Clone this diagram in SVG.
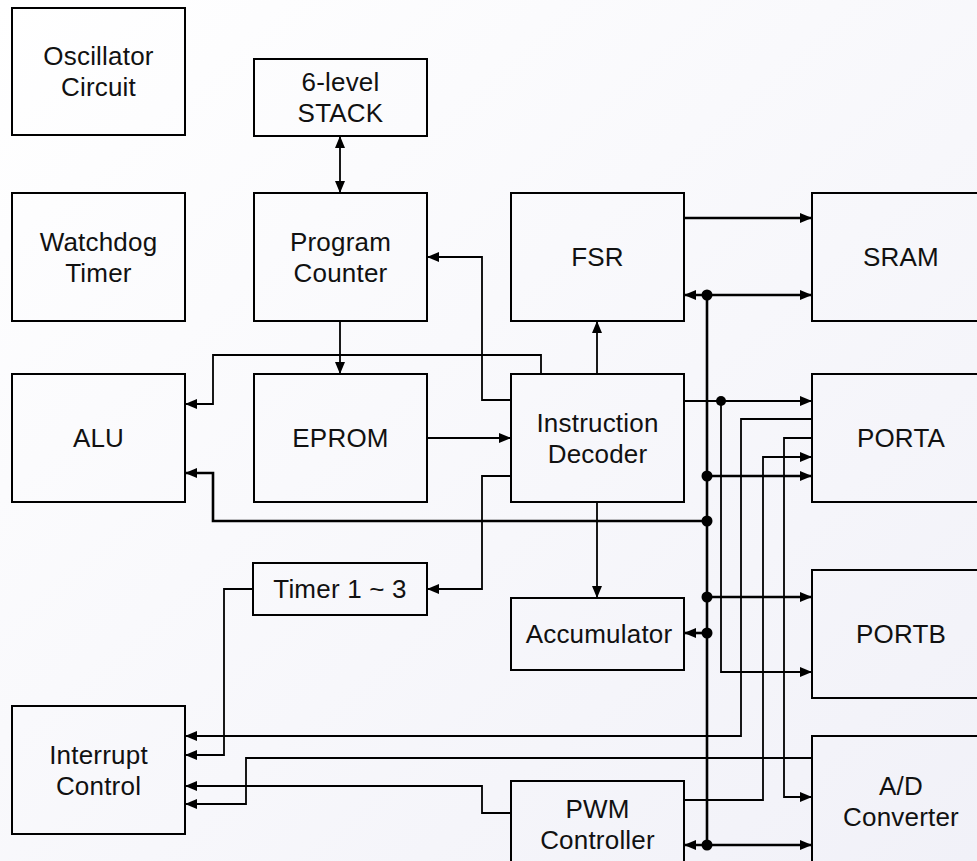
<svg xmlns="http://www.w3.org/2000/svg" width="977" height="861" viewBox="0 0 977 861">
<style>
.box{fill:none;stroke:#000;stroke-width:2}
.t{font-family:"Liberation Sans",Arial,sans-serif;font-size:26px;letter-spacing:0.2px;fill:#111;text-anchor:middle}
.c{fill:none;stroke:#000;stroke-width:1.8}
.b{fill:none;stroke:#000;stroke-width:2.6}
.dot{fill:#000}
</style>
<defs>
<linearGradient id="bg" x1="0" y1="0" x2="1" y2="1">
<stop offset="0" stop-color="#ffffff"/>
<stop offset="1" stop-color="#f1f1f8"/>
</linearGradient>
<marker id="a" viewBox="0 0 12 10" refX="12" refY="5" markerWidth="12" markerHeight="10" markerUnits="userSpaceOnUse" orient="auto-start-reverse">
<path d="M0,0 L12,5 L0,10 z" fill="#000"/>
</marker>
</defs>
<rect width="977" height="861" fill="url(#bg)"/>
<g id="osc"><rect class="box" x="12" y="8" width="173" height="127"/><text class="t" x="98.5" y="65">Oscillator</text><text class="t" x="98.5" y="96">Circuit</text></g>
<g id="stack"><rect class="box" x="254" y="59" width="173" height="77"/><text class="t" x="340.5" y="91">6-level</text><text class="t" x="340.5" y="122">STACK</text></g>
<g id="wdt"><rect class="box" x="12" y="193" width="173" height="128"/><text class="t" x="98.5" y="251">Watchdog</text><text class="t" x="98.5" y="282">Timer</text></g>
<g id="pc"><rect class="box" x="254" y="193" width="173" height="128"/><text class="t" x="340.5" y="251">Program</text><text class="t" x="340.5" y="282">Counter</text></g>
<g id="fsr"><rect class="box" x="511" y="193" width="173" height="128"/><text class="t" x="597.5" y="266">FSR</text></g>
<g id="sram"><rect class="box" x="812" y="193" width="180" height="128"/><text class="t" x="901" y="266">SRAM</text></g>
<g id="alu"><rect class="box" x="12" y="374" width="173" height="128"/><text class="t" x="98.5" y="447">ALU</text></g>
<g id="eprom"><rect class="box" x="254" y="374" width="173" height="128"/><text class="t" x="340.5" y="447">EPROM</text></g>
<g id="idec"><rect class="box" x="511" y="374" width="173" height="128"/><text class="t" x="597.5" y="432">Instruction</text><text class="t" x="597.5" y="463">Decoder</text></g>
<g id="porta"><rect class="box" x="812" y="374" width="180" height="128"/><text class="t" x="901" y="447">PORTA</text></g>
<g id="timer"><rect class="box" x="253" y="563" width="174" height="52"/><text class="t" x="340" y="598">Timer 1 ~ 3</text></g>
<g id="acc"><rect class="box" x="511" y="598" width="173" height="72"/><text class="t" x="599" y="643">Accumulator</text></g>
<g id="portb"><rect class="box" x="812" y="570" width="180" height="128"/><text class="t" x="901" y="643">PORTB</text></g>
<g id="int"><rect class="box" x="12" y="706" width="173" height="128"/><text class="t" x="98.5" y="764">Interrupt</text><text class="t" x="98.5" y="795">Control</text></g>
<g id="pwm"><rect class="box" x="511" y="781" width="173" height="100"/><text class="t" x="597.5" y="818">PWM</text><text class="t" x="597.5" y="849">Controller</text></g>
<g id="adc"><rect class="box" x="812" y="736" width="180" height="140"/><text class="t" x="901" y="795">A/D</text><text class="t" x="901" y="826">Converter</text></g>
<g id="connectors">
<path class="c" d="M340,136 V193" marker-start="url(#a)" marker-end="url(#a)"/>
<path class="c" d="M340,321 V374" marker-end="url(#a)"/>
<path class="c" d="M541,374 V355 H213 V404 H185" marker-end="url(#a)"/>
<path class="c" d="M511,400 H482 V257 H427" marker-end="url(#a)"/>
<path class="c" d="M427,438 H511" marker-end="url(#a)"/>
<path class="c" d="M511,476 H482 V589 H427" marker-end="url(#a)"/>
<path class="c" d="M597,374 V321" marker-end="url(#a)"/>
<path class="c" d="M597,502 V598" marker-end="url(#a)"/>
<path class="b" d="M684,218 H812" marker-end="url(#a)"/>
<path class="b" d="M684,295 H812" marker-start="url(#a)" marker-end="url(#a)"/>
<path class="b" d="M707,295 V845"/>
<path class="b" d="M707,476 H812" marker-end="url(#a)"/>
<path class="b" d="M707,521 H213 V473 H185" marker-end="url(#a)"/>
<path class="b" d="M707,597 H812" marker-end="url(#a)"/>
<path class="b" d="M707,633 H684" marker-end="url(#a)"/>
<path class="b" d="M684,845 H812" marker-start="url(#a)" marker-end="url(#a)"/>
<path class="c" d="M684,401 H812" marker-end="url(#a)"/>
<path class="c" d="M721,401 V672 H812" marker-end="url(#a)"/>
<path class="c" d="M812,419 H741 V736 H185" marker-end="url(#a)"/>
<path class="c" d="M812,438 H784 V797 H812" marker-end="url(#a)"/>
<path class="c" d="M684,800 H763 V457 H812" marker-end="url(#a)"/>
<path class="c" d="M812,758 H246 V804 H185" marker-end="url(#a)"/>
<path class="c" d="M511,813 H482 V786 H185" marker-end="url(#a)"/>
<path class="c" d="M253,589 H224 V755 H185" marker-end="url(#a)"/>
<circle class="dot" cx="707" cy="295" r="5.5"/>
<circle class="dot" cx="707" cy="476" r="5.5"/>
<circle class="dot" cx="707" cy="521" r="5.5"/>
<circle class="dot" cx="707" cy="597" r="5.5"/>
<circle class="dot" cx="707" cy="633" r="5.5"/>
<circle class="dot" cx="707" cy="845" r="5.5"/>
<circle class="dot" cx="721" cy="401" r="5"/>
</g>
</svg>
